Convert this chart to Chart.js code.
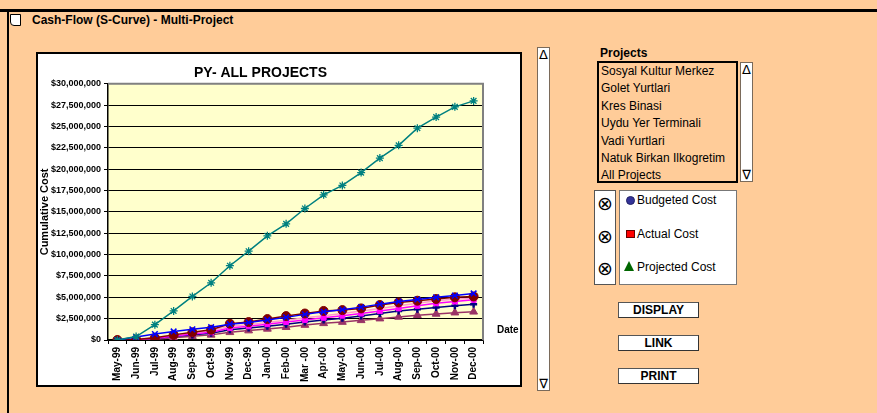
<!DOCTYPE html>
<html>
<head>
<meta charset="utf-8">
<script src="https://cdn.jsdelivr.net/npm/chart.js@4.4.1/dist/chart.umd.min.js"></script>
<style>
  body { margin: 0; width: 877px; height: 413px; overflow: hidden; background: #FFCC99;
         font-family: "Liberation Sans", Arial, sans-serif; position: relative; }
  .abs { position: absolute; }
  #topbar { left: 0; top: 9px; width: 877px; height: 3px; background: #000; }
  #leftbar { left: 7px; top: 9px; width: 2px; height: 404px; background: #000; }
  #icon { left: 10px; top: 14px; width: 9px; height: 10px; background: #fff; border: 1px solid #000;
          border-bottom-left-radius: 4px; }
  #pagetitle { left: 32px; top: 13px; font-size: 12px; font-weight: bold; }
  #chartbox { left: 36px; top: 52px; width: 486px; height: 335px; border: 2px solid #000;
              box-sizing: border-box; background: #fff; }
  #chartwrap { position: relative; width: 482px; height: 331px; }
  #datelbl { left: 497px; top: 324px; font-size: 10px; font-weight: bold; }
  .scroll { background: #fff; border: 1px solid #7a6a5a; box-sizing: border-box; }
  .arrow { position: absolute; left: 0; width: 100%; text-align: center; font-size: 13px; line-height: 13px;
           font-family: "DejaVu Sans", sans-serif; }
  #projlbl { left: 600px; top: 46px; font-size: 12px; font-weight: bold; }
  #listbox { left: 597px; top: 61px; width: 141px; height: 122px; border: 2px solid #000; box-sizing: border-box; }
  #listbox div { font-size: 12px; line-height: 17.4px; padding-left: 2px; white-space: nowrap; }
  #checks { left: 594px; top: 190px; width: 22px; height: 95px; background: #fff; border: 1px solid #555;
            box-sizing: border-box; }
  .chk { position: absolute; left: 0; width: 20px; text-align: center; font-size: 19px; line-height: 20px;
         font-family: "DejaVu Sans", sans-serif; }
  #legend { left: 619px; top: 190px; width: 118px; height: 95px; background: #fff; border: 1px solid #777;
            box-sizing: border-box; }
  .leg { position: absolute; left: 17px; font-size: 12px; line-height: 14px; white-space: nowrap; }
  .btn { left: 618px; width: 81px; height: 16px; background: #fff; border: 1px solid #555;
         border-right-color: #333; border-bottom-color: #333; box-sizing: border-box;
         text-align: center; font-size: 12px; font-weight: bold; line-height: 15px; }
</style>
</head>
<body>
<div class="abs" id="topbar"></div>
<div class="abs" id="leftbar"></div>
<div class="abs" id="icon"></div>
<div class="abs" id="pagetitle">Cash-Flow (S-Curve) - Multi-Project</div>

<div class="abs" id="chartbox"><div id="chartwrap"><canvas id="myChart"></canvas></div></div>
<div class="abs" id="datelbl">Date</div>

<div class="abs scroll" style="left:537px; top:47px; width:13px; height:344px;">
  <div class="arrow" style="top:0;">&#916;</div>
  <div class="arrow" style="bottom:0;">&#8711;</div>
</div>

<div class="abs" id="projlbl">Projects</div>
<div class="abs" id="listbox">
  <div>Sosyal Kultur Merkez</div>
  <div>Golet Yurtlari</div>
  <div>Kres Binasi</div>
  <div>Uydu Yer Terminali</div>
  <div>Vadi Yurtlari</div>
  <div>Natuk Birkan Ilkogretim</div>
  <div>All Projects</div>
</div>
<div class="abs scroll" style="left:740px; top:62px; width:13px; height:120px;">
  <div class="arrow" style="top:0;">&#916;</div>
  <div class="arrow" style="bottom:0;">&#8711;</div>
</div>

<div class="abs" id="checks">
  <div class="chk" style="top:2px;">&#8855;</div>
  <div class="chk" style="top:35px;">&#8855;</div>
  <div class="chk" style="top:67px;">&#8855;</div>
</div>
<div class="abs" id="legend">
  <div class="abs" style="left:6px; top:5px; width:7px; height:7px; border-radius:50%; background:#333399; border:1px solid #222266;"></div>
  <div class="leg" style="top:2px;">Budgeted Cost</div>
  <div class="abs" style="left:6px; top:39px; width:7px; height:6px; background:#FF0000; border:1px solid #660000;"></div>
  <div class="leg" style="top:36px;">Actual Cost</div>
  <div class="abs" style="left:4px; top:70px; width:0; height:0; border-left:5px solid transparent; border-right:5px solid transparent; border-bottom:10px solid #006600;"></div>
  <div class="leg" style="top:69px;">Projected Cost</div>
</div>

<div class="abs btn" style="top:302px;">DISPLAY</div>
<div class="abs btn" style="top:335px;">LINK</div>
<div class="abs btn" style="top:368px;">PRINT</div>

<script>
// months on the x axis
const months = ['May-99', 'Jun-99', 'Jul-99', 'Aug-99', 'Sep-99', 'Oct-99', 'Nov-99', 'Dec-99',
    'Jan-00', 'Feb-00', 'Mar -00', 'Apr-00', 'May-00', 'Jun-00', 'Jul-00', 'Aug-00',
    'Sep-00', 'Oct-00', 'Nov-00', 'Dec-00'];

// cumulative cost per series, in millions
const allProjects = [0, 0.4, 1.8, 3.4, 5.1, 6.7, 8.7, 10.4, 12.2, 13.6, 15.4, 17.0, 18.1, 19.6, 21.3, 22.8, 24.8, 26.1, 27.3, 28.0];
const blueSeries = [0, 0.35, 0.7, 1.0, 1.25, 1.5, 1.85, 2.05, 2.35, 2.65, 3.0, 3.3, 3.55, 3.85, 4.2, 4.5, 4.75, 5.0, 5.2, 5.45];
const redSeries = [0, 0.05, 0.25, 0.6, 0.9, 1.2, 1.9, 2.1, 2.45, 2.8, 3.1, 3.4, 3.5, 3.7, 4.1, 4.4, 4.6, 4.8, 5.0, 5.1];
const magentaSeries = [0, 0.05, 0.2, 0.45, 0.7, 0.9, 1.4, 1.6, 1.85, 2.1, 2.35, 2.6, 2.85, 3.1, 3.4, 3.7, 4.0, 4.3, 4.5, 4.7];
const pinkSeries = [0, 0.1, 0.3, 0.6, 0.85, 1.1, 1.6, 1.8, 2.05, 2.3, 2.6, 2.85, 3.1, 3.4, 3.7, 4.0, 4.3, 4.6, 4.8, 4.9];
const navySeries = [0, 0.05, 0.2, 0.4, 0.6, 0.8, 1.2, 1.4, 1.6, 1.85, 2.1, 2.35, 2.55, 2.8, 3.1, 3.4, 3.6, 3.8, 4.0, 4.2];
const mauveSeries = [0, 0, 0.1, 0.25, 0.45, 0.6, 0.9, 1.1, 1.3, 1.5, 1.75, 1.95, 2.1, 2.3, 2.5, 2.7, 2.9, 3.05, 3.2, 3.3];

const toDollars = arr => arr.map(v => v * 1000000);

function series(label, values, color, style, radius, width) {
    return {
        label: label,
        data: toDollars(values),
        borderColor: color,
        backgroundColor: color,
        borderWidth: 1.5,
        pointStyle: style,
        pointRadius: radius,
        pointBorderWidth: width,
        pointBorderColor: color,
        pointBackgroundColor: color,
        tension: 0,
        fill: false
    };
}

// yellow plot area with grey top/right frame
const plotBack = {
    id: 'plotBack',
    beforeDraw(chart) {
        const a = chart.chartArea, c = chart.ctx;
        c.save();
        c.fillStyle = '#FFFFCC';
        c.fillRect(a.left, a.top, a.right - a.left, a.bottom - a.top);
        c.restore();
    },
    afterDraw(chart) {
        const a = chart.chartArea, c = chart.ctx;
        c.save();
        c.strokeStyle = '#808080';
        c.lineWidth = 2;
        c.beginPath();
        c.moveTo(a.left, a.top);
        c.lineTo(a.right, a.top);
        c.lineTo(a.right, a.bottom);
        c.stroke();
        c.restore();
    }
};

const fontFam = '"Liberation Sans", Arial, sans-serif';

let ctx = document.getElementById('myChart').getContext('2d');
let myChart = new Chart(ctx, {
    type: 'line',
    data: {
        labels: months,
        datasets: [
            series('All Projects', allProjects, '#008080', 'star', 4, 1.3),
            series('Budgeted', blueSeries, '#0000FF', 'crossRot', 4, 1.5),
            series('Actual', redSeries, '#800000', 'circle', 4.5, 1),
            series('Projected', magentaSeries, '#FF00FF', 'rect', 3.5, 1),
            series('Series 5', pinkSeries, '#FF99CC', 'rect', 2.5, 1),
            series('Series 6', navySeries, '#000080', 'cross', 3.5, 2.5),
            series('Series 7', mauveSeries, '#993366', 'triangle', 4.5, 1)
        ]
    },
    plugins: [plotBack],
    options: {
        responsive: true,
        maintainAspectRatio: false,
        animation: false,
        layout: { padding: { left: 0, right: 37, top: 0, bottom: 0 } },
        plugins: {
            legend: { display: false },
            tooltip: { enabled: false },
            title: {
                display: true,
                text: 'PY- ALL PROJECTS',
                color: '#000',
                font: { family: fontFam, size: 14, weight: 'bold' },
                padding: { top: 11, bottom: 2 }
            }
        },
        scales: {
            x: {
                offset: true,
                afterFit: s => { s.height = 45; },
                grid: { drawOnChartArea: false, drawTicks: true, tickLength: 4, color: '#000', offset: true },
                border: { color: '#000', width: 1.5 },
                ticks: {
                    color: '#000', autoSkip: false, minRotation: 90, maxRotation: 90, padding: 3,
                    font: { family: fontFam, size: 10, weight: 'bold' }
                }
            },
            y: {
                min: 0,
                max: 30000000,
                afterFit: s => { s.width = 70; },
                title: {
                    display: true,
                    text: 'Cumulative Cost',
                    color: '#000',
                    padding: { top: 0, bottom: 0 },
                    font: { family: fontFam, size: 11, weight: 'bold' }
                },
                grid: { color: '#000', lineWidth: 1, tickLength: 4 },
                border: { color: '#000', width: 1.5 },
                ticks: {
                    stepSize: 2500000,
                    color: '#000',
                    padding: 3,
                    font: { family: fontFam, size: 9, weight: 'bold' },
                    callback: function (value) {
                        return '$' + value.toLocaleString('en-US');
                    }
                }
            }
        }
    }
});
</script>
</body>
</html>
